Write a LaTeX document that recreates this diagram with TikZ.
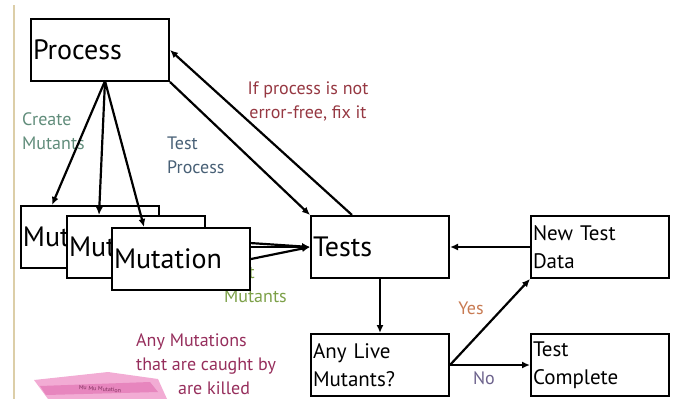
\documentclass[tikz,border=0pt]{standalone}
\usepackage{fontspec}
\setmainfont{PT Sans}
\usetikzlibrary{arrows.meta}
\usetikzlibrary{backgrounds}

\definecolor{tanline}{RGB}{220,206,168}
\definecolor{createcol}{RGB}{96,140,122}
\definecolor{testproccol}{RGB}{72,96,118}
\definecolor{fixcol}{RGB}{150,56,66}
\definecolor{testmutcol}{RGB}{124,160,72}
\definecolor{killcol}{RGB}{150,46,92}
\definecolor{yescol}{RGB}{200,122,82}
\definecolor{nocol}{RGB}{108,98,140}
\definecolor{pinklight}{RGB}{242,172,212}
\definecolor{pinkdark}{RGB}{220,82,162}

\begin{document}
\begin{tikzpicture}[x=1pt, y=-1pt,
    box/.style={draw, fill=white, line width=2pt, anchor=north west,
      minimum height=62pt, text width=134pt, inner xsep=2pt, align=left},
    big/.style={font=\fontsize{28}{30}\selectfont},
    small/.style={font=\fontsize{21}{28}\selectfont},
    note/.style={font=\fontsize{18}{24}\selectfont, inner sep=0pt},
    link/.style={line width=2.2pt, -{Latex[length=8pt, width=7pt]}}]

  \useasboundingbox (0,0) rectangle (675,399);
  \draw[tanline, line width=2pt] (14,5) -- (14,399);

  % boxes
  \node[box, big] (process) at (30,18) {Process};
  \node[box, big] (mut1) at (20,205) {Mut};
  \node[box, big] (mut2) at (66,215) {Mut};
  \node[box, big] (mut3) at (111,227) {Mutation};
  \node[box, big] (tests) at (310,215) {Tests};
  \node[box, small] (newdata) at (530,215) {New Test\\Data};
  \node[box, small] (anylive) at (310,333) {Any Live\\Mutants?};
  \node[box, small] (complete) at (530,333) {Test\\Complete};

  % labels
  \node[note, createcol, anchor=north west, align=left] (create) at (22,112) {Create\\Mutants};
  \node[note, testproccol, anchor=north west, align=left] (testproc) at (167,137) {Test\\Process};
  \node[note, fixcol, anchor=north, align=center] (fix) at (308,82) {If process is not\\error-free, fix it};
  \node[note, killcol, anchor=north west, align=left] (killed) at (136,333)
    {Any Mutations\\that are caught by\\\hspace*{42pt}are killed};
  \node[note, yescol] (yes) at (471,308) {Yes};
  \node[note, nocol] (no) at (484,378) {No};

  % small picture of the mutants
  \fill[pinklight] (34,380) -- (108,372) -- (158,379) -- (167,399) -- (48,399) -- cycle;
  \fill[pinkdark!70] (40,386) -- (150,382) -- (158,392) -- (46,395) -- cycle;
  \node[font=\fontsize{6}{6}\selectfont, pinkdark!60!black, rotate=-4, inner sep=0pt] (mini) at (100,389) {Mu Mu Mutation};

  % mutants to tests
  \begin{scope}[on background layer]
    \node[note, testmutcol, anchor=north west, align=left] (testmut) at (224,266) {Test\\Mutants};
    \draw[link] (mut1.east) -- (tests.west);
    \draw[link] (mut2.east) -- (tests.west);
    \draw[link] (mut3.east) -- (tests.west);
  \end{scope}

  \coordinate (fan) at (105,81);
  \draw[link] (fan) -- ([xshift=32pt]mut1.north west);
  \draw[link] (fan) -- ([xshift=33pt]mut2.north west);
  \draw[link] (fan) -- ([xshift=33pt]mut3.north west);

  \draw[link] (process.south east) -- (tests.north west);
  \draw[link] ([xshift=42pt]tests.north west) -- (process.east);
  \draw[link] (tests.south) -- (anylive.north);
  \draw[link] (newdata.west) -- (tests.east);
  \draw[link] (anylive.east) -- (complete.west);
  \draw[link] (anylive.east) -- (newdata.south west);
\end{tikzpicture}
\end{document}
